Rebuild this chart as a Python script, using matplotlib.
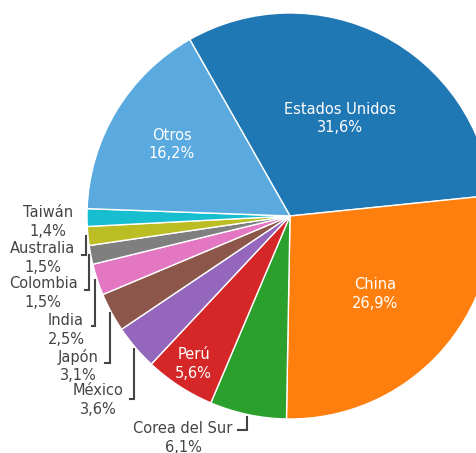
import numpy as np
import matplotlib.pyplot as plt

paises = ['Estados Unidos', 'China', 'Corea del Sur', 'Perú', 'México', 'Japón',
          'India', 'Colombia', 'Australia', 'Taiwán', 'Otros']
porcentajes = [31.6, 26.9, 6.1, 5.6, 3.6, 3.1, 2.5, 1.5, 1.5, 1.4, 16.2]
colores = ['#1f77b4', '#ff7f0e', '#2ca02c', '#d62728', '#9467bd', '#8c564b',
           '#e377c2', '#7f7f7f', '#bcbd22', '#17becf', '#5aaae0']

# pie centre and radius in pixels of the 477x453 image
CX, CY, R = 290, 216, 203
W, H = 477, 453


def px(x, y):
    return (x - CX) / R, (CY - y) / R


def etiqueta(nombre, valor):
    return nombre + '\n' + ('%.1f' % valor).replace('.', ',') + '%'


plt.rcParams['font.family'] = ['DejaVu Sans']
fig = plt.figure(figsize=(W / 100, H / 100), dpi=100)
ax = fig.add_axes([0, 0, 1, 1])

wedges, _ = ax.pie(porcentajes, colors=colores, startangle=119.6, counterclock=False,
                   radius=1, wedgeprops=dict(edgecolor='white', linewidth=1))

ax.set_aspect('auto')
ax.set_xlim(-CX / R, (W - CX) / R)
ax.set_ylim((CY - H) / R, CY / R)
ax.axis('off')

# labels inside the slices (radial distance)
dentro = {'Estados Unidos': 0.54, 'China': 0.57, 'Otros': 0.68, 'Perú': 0.87}
# labels outside: text centre x, y, leader y, leader end x (pixels)
fuera = {'Taiwán': (48, 222, None, None),
         'Australia': (43, 258, 255, 82),
         'Colombia': (43, 293, 290, 85),
         'India': (66, 330, 326, 92),
         'Japón': (78, 366, 363, 105),
         'México': (98, 400, 399, 130),
         'Corea del Sur': (183, 438, 430, 238)}

for w, nombre, valor in zip(wedges, paises, porcentajes):
    ang = np.deg2rad((w.theta1 + w.theta2) / 2)
    txt = etiqueta(nombre, valor)
    if nombre in dentro:
        r = dentro[nombre]
        ax.text(r * np.cos(ang), r * np.sin(ang), txt, ha='center', va='center',
                color='white', fontsize=10.5, linespacing=1.3)
    else:
        tx, ty, ly, lx = fuera[nombre]
        x, y = px(tx, ty)
        ax.text(x, y, txt, ha='center', va='center', color='#444444',
                fontsize=10.5, linespacing=1.3)
        if ly is not None:
            x0, y0 = 1.01 * np.cos(ang), 1.01 * np.sin(ang)
            x1, y1 = px(lx, ly)
            ax.plot([x0, x0, x1], [y0, y1, y1], color='#444444', lw=1.5,
                    solid_joinstyle='miter', clip_on=False)

fig.savefig('out.png', dpi=100)
